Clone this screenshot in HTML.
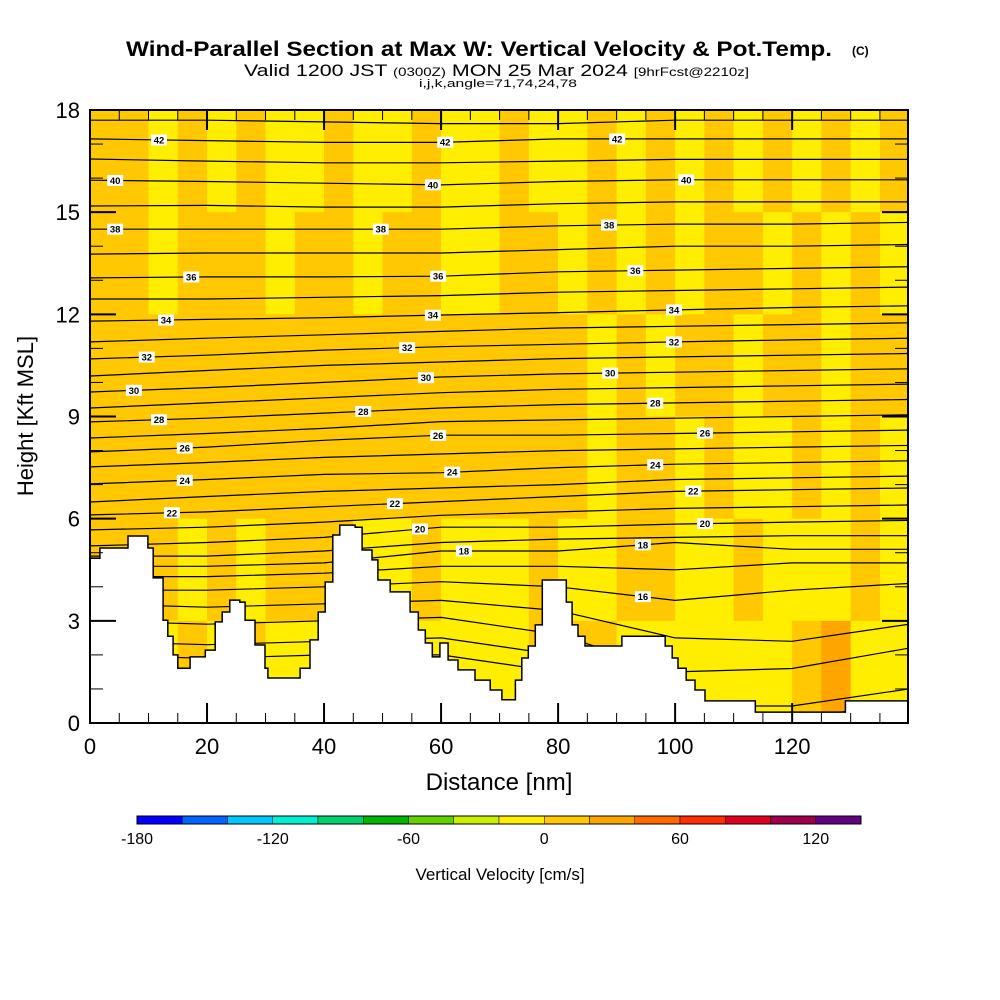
<!DOCTYPE html>
<html><head><meta charset="utf-8"><style>
html,body{margin:0;padding:0;background:#fff}
svg{display:block;font-family:"Liberation Sans",sans-serif}
</style></head><body>
<svg id="chart" width="1000" height="1000" viewBox="0 0 1000 1000">
<g>
<text x="126" y="56" font-size="21" font-weight="bold" textLength="706" lengthAdjust="spacingAndGlyphs">Wind-Parallel Section at Max W: Vertical Velocity &amp; Pot.Temp.</text>
<text x="852" y="55" font-size="12" font-weight="bold">(C)</text>
<text x="244" y="76" font-size="17" textLength="505" lengthAdjust="spacingAndGlyphs">Valid 1200 JST <tspan font-size="12">(0300Z)</tspan> MON 25 Mar 2024 <tspan font-size="12">[9hrFcst@2210z]</tspan></text>
<text x="498" y="87" font-size="11" text-anchor="middle" textLength="158" lengthAdjust="spacingAndGlyphs">i,j,k,angle=71,74,24,78</text>
</g>
<defs><clipPath id="plotclip"><rect x="90" y="110" width="818" height="613"/></clipPath></defs>
<g id="field" clip-path="url(#plotclip)"></g>
<g id="contours" clip-path="url(#plotclip)"></g>
<g id="terrain" clip-path="url(#plotclip)"></g>
<g id="labels" clip-path="url(#plotclip)"></g>
<rect x="90" y="110" width="818" height="613" fill="none" stroke="#000" stroke-width="2"/>
<g id="ticks"></g>
<text x="499" y="790" font-size="24" text-anchor="middle">Distance [nm]</text>
<text transform="translate(33,416) rotate(-90)" font-size="22" text-anchor="middle">Height [Kft MSL]</text>
<g id="colorbar"></g>
<text x="500" y="880" font-size="17" text-anchor="middle">Vertical Velocity [cm/s]</text>
</svg>
<script>
// ---- data ----
const wCols = [2.5,7.5,12.5,17.5,22.5,27.5,32.5,37.5,42.5,47.5,52.5,57.5,62.5,67.5,72.5,77.5,82.5,87.5,92.5,97.5,102.5,107.5,112.5,117.5,122.5,127.5,132.5,137.5];
const wRowsKft = [16.5,13.5,10.5,7.5,4.5,1.5];
const wRow0 = [10,10,-5,10,-5,10,-5,-5,10,-5,-5,10,-5,-5,10,-5,-5,10,-5,10,-5,10,-5,10,-5,10,-5,10];
const wRow1 = [10,10,-5,10,10,10,-5,10,10,-5,10,10,-5,-5,10,10,-5,10,-5,10,-5,10,10,-5,10,-5,10,-5];
const wRow2 = [10,10,10,10,10,10,10,10,10,10,10,10,10,10,10,10,10,-5,10,-5,10,10,-5,10,10,-5,10,10];
const wRow3 = [10,10,10,10,10,10,10,10,10,10,10,10,10,10,10,10,10,-5,10,10,-5,10,-5,-5,10,-5,10,-5];
const wRow4 = [10,10,10,-5,10,-5,10,10,10,-5,-5,10,-5,-5,-5,10,-5,-5,10,10,-5,-5,10,-5,-5,-5,10,-5];
const wRow5 = [-5,-5,-5,10,-5,10,-5,-5,-5,-5,10,-5,-5,-5,-5,10,10,10,-5,-5,-5,-5,-5,-5,10,30,-5,-5];
const wRows = [wRow0,wRow1,wRow2,wRow3,wRow4,wRow5];

const thetaStations = [0,20,40,60,80,100,120,140];
const thetaLevels = [12,13,14,15,16,17,18,19,20,21,22,23,24,25,26,27,28,29,30,31,32,33,34,35,36,37,38,39,40,41,42,43];
const thetaHeights = [
[2.0,1.9,2.0,2.0,1.5,0.2,0.2,0.5],
[2.4,2.3,2.4,2.5,2.0,0.5,0.5,1.0],
[3.0,2.9,3.0,3.1,2.6,1.5,1.6,2.2],
[3.5,3.4,3.5,3.6,3.3,2.5,2.4,2.9],
[3.9,3.9,4.0,4.15,4.0,3.6,3.9,4.1],
[4.3,4.3,4.4,4.6,4.6,4.5,4.7,4.7],
[4.6,4.6,4.7,5.05,5.05,5.3,5.1,5.1],
[4.9,4.9,5.05,5.3,5.4,5.45,5.5,5.5],
[5.2,5.3,5.45,5.75,5.75,5.84,5.9,5.95],
[5.67,5.75,5.9,6.1,6.2,6.3,6.35,6.4],
[6.11,6.2,6.35,6.5,6.65,6.8,6.85,6.9],
[6.49,6.65,6.8,6.9,7.0,7.15,7.2,7.25],
[7.02,7.15,7.3,7.35,7.5,7.6,7.65,7.7],
[7.52,7.65,7.8,7.9,8.0,8.05,8.1,8.15],
[7.96,8.1,8.3,8.45,8.45,8.5,8.55,8.6],
[8.37,8.5,8.65,8.85,8.9,8.95,9.0,9.05],
[8.84,8.95,9.1,9.25,9.35,9.4,9.45,9.5],
[9.25,9.4,9.55,9.7,9.8,9.85,9.9,9.95],
[9.72,9.85,10.0,10.16,10.25,10.3,10.35,10.4],
[10.19,10.35,10.5,10.6,10.7,10.75,10.8,10.85],
[10.69,10.8,10.95,11.05,11.12,11.19,11.25,11.3],
[11.19,11.3,11.4,11.5,11.6,11.65,11.7,11.75],
[11.8,11.85,11.9,11.98,12.05,12.13,12.2,12.25],
[12.45,12.45,12.5,12.55,12.65,12.7,12.75,12.8],
[13.07,13.1,13.1,13.12,13.25,13.3,13.35,13.4],
[13.77,13.8,13.8,13.8,13.9,14.0,14.0,14.05],
[14.5,14.5,14.5,14.5,14.6,14.65,14.65,14.7],
[15.18,15.2,15.15,15.15,15.25,15.3,15.3,15.3],
[15.94,15.9,15.85,15.8,15.9,15.95,15.95,15.95],
[16.56,16.5,16.45,16.45,16.5,16.55,16.55,16.55],
[17.15,17.1,17.05,17.05,17.15,17.15,17.15,17.15],
[17.7,17.7,17.65,17.6,17.6,17.7,17.7,17.7]];

const labelLevels = [42,42,42,40,40,40,38,38,38,36,36,36,34,34,34,32,32,32,30,30,30,28,28,28,26,26,26,24,24,24,22,22,22,20,20,18,18,16];
const labelDist = [11.8,60.7,90.1,4.3,58.6,101.9,4.3,49.7,88.7,17.3,59.5,93.2,13.0,58.6,99.8,9.7,54.2,99.8,7.5,57.4,88.9,11.8,46.7,96.6,16.2,59.5,105.1,16.2,61.9,96.6,14.0,52.1,103.1,56.4,105.1,63.9,94.5,94.5];

const terrainDist = [0,1.7,6.5,9.9,10.8,12.5,13.3,14.2,15.0,17.1,19.7,21.4,22.6,23.9,25.6,26.5,28.2,29.9,30.4,34.5,35.9,37.6,39.0,40.2,41.5,42.7,45.3,46.5,48.2,49.2,51.3,53.8,54.7,56.1,57.3,58.5,59.8,61.2,62.9,65.8,67.5,68.4,70.4,72.6,72.7,73.8,74.9,76.1,77.3,78.3,81.4,82.4,83.4,84.6,90.9,98.3,99.5,100.5,101.9,103.4,105.1,113.7,129.1,139.8];
const terrainKft = [4.84,5.14,5.49,5.14,4.26,3.02,2.55,2.0,1.61,1.94,2.14,2.97,3.26,3.61,3.55,3.02,2.29,1.61,1.32,1.32,1.61,2.44,3.26,4.14,5.52,5.81,5.75,5.08,4.79,4.20,3.85,3.85,3.26,2.73,2.35,1.94,2.35,1.85,1.56,1.26,1.26,0.97,0.68,0.68,1.26,1.91,2.26,2.88,4.20,4.20,3.55,2.88,2.55,2.26,2.55,2.26,1.91,1.61,1.26,0.97,0.65,0.32,0.65,0.65];

const cbValues = [-180,-160,-140,-120,-100,-80,-60,-40,-20,0,20,40,60,80,100,120,140];
const cbColors = ["#0000ff","#0064ff","#00c8ff","#00f0d2","#00d26e","#00b400","#64d200","#c8f000","#ffee00","#ffc800","#ffa500","#ff6900","#ff2d00","#e1001e","#a0004b","#640082"];
const cbTickLabels = [-180,-120,-60,0,60,120];

// ---- axes ----
const NS="http://www.w3.org/2000/svg";
const X = nm => 90 + nm*(818/139.8);
const Y = k => 723 - k*(613/18);
const CB = v => 137 + (v+180)*(724/320);
function mk(tag, attrs, parent){const e=document.createElementNS(NS,tag);for(const k in attrs)e.setAttribute(k,attrs[k]);parent.appendChild(e);return e;}
function colorFor(w){for(let i=0;i<cbColors.length;i++){if(w>=cbValues[i]&&w<cbValues[i+1])return cbColors[i];}return cbColors[cbColors.length-1];}

// field
const field=document.getElementById('field');
wRows.forEach((row,ri)=>{row.forEach((w,ci)=>{
  const r=mk('rect',{x:X(wCols[ci]-2.5),y:Y(wRowsKft[ri]+1.5),width:X(wCols[ci]+2.5)-X(wCols[ci]-2.5)+0.5,height:Y(wRowsKft[ri]-1.5)-Y(wRowsKft[ri]+1.5)+0.5,fill:colorFor(w)},field);
  
  
});});

// contours
function thetaHeightAt(li,d){const h=thetaHeights[li];for(let i=0;i<thetaStations.length-1;i++){if(d<=thetaStations[i+1]){const t=(d-thetaStations[i])/(thetaStations[i+1]-thetaStations[i]);return h[i]+t*(h[i+1]-h[i]);}}return h[h.length-1];}
const cg=document.getElementById('contours');
thetaLevels.forEach((lv,li)=>{
  const pts=thetaStations.map((d,i)=>X(d).toFixed(1)+','+Y(thetaHeights[li][i]).toFixed(1)).join(' ');
  const p=mk('polyline',{points:pts,fill:'none',stroke:'#000','stroke-width':1.2},cg);
  
  
});

// terrain
const tg=document.getElementById('terrain');
let d='M'+X(0)+','+Y(-1)+' L'+X(terrainDist[0])+','+Y(terrainKft[0]);
for(let i=1;i<terrainDist.length;i++){d+=' L'+X(terrainDist[i]).toFixed(1)+','+Y(terrainKft[i-1]).toFixed(1)+' L'+X(terrainDist[i]).toFixed(1)+','+Y(terrainKft[i]).toFixed(1);}
d+=' L'+X(141)+','+Y(terrainKft[terrainKft.length-1])+' L'+X(141)+','+Y(-1)+' Z';
const tp=mk('path',{d:d,fill:'#fff',stroke:'#000','stroke-width':1.5},tg);



// labels
const lg=document.getElementById('labels');
labelLevels.forEach((lv,i)=>{
  const li=thetaLevels.indexOf(lv);const cx=X(labelDist[i]);const cy=Y(thetaHeightAt(li,labelDist[i]));
  const g=mk('g',{},lg);
  
  
  mk('rect',{x:cx-8,y:cy-5.5,width:16,height:11,fill:'#fff'},g);
  const t=mk('text',{x:cx,y:cy+3.5,'font-size':9.5,'font-weight':'bold','text-anchor':'middle'},g);t.textContent=lv;
});

// ticks
const tk=document.getElementById('ticks');
for(let nm=0;nm<=139.8;nm+=5){const maj=nm%20===0;const L=maj?20:10;const x=X(nm);
  mk('line',{x1:x,y1:723,x2:x,y2:723-L,stroke:'#000','stroke-width':maj?2:1},tk);
  mk('line',{x1:x,y1:110,x2:x,y2:110+L,stroke:'#000','stroke-width':maj?2:1},tk);
  if(maj){const t=mk('text',{x:x,y:754,'font-size':22,'text-anchor':'middle'},tk);t.textContent=nm;}}
for(let k=0;k<=18;k++){const maj=k%3===0;const L=maj?26:13;const y=Y(k);
  mk('line',{x1:90,y1:y,x2:90+L,y2:y,stroke:'#000','stroke-width':maj?2:1},tk);
  mk('line',{x1:908,y1:y,x2:908-L,y2:y,stroke:'#000','stroke-width':maj?2:1},tk);
  if(maj){const t=mk('text',{x:80,y:y+8,'font-size':22,'text-anchor':'end'},tk);t.textContent=k;}}

// colorbar
const cb=document.getElementById('colorbar');
cbColors.forEach((c,i)=>{const r=mk('rect',{x:CB(cbValues[i]),y:816,width:CB(cbValues[i+1])-CB(cbValues[i]),height:8,fill:c,stroke:'#000','stroke-width':0.5},cb);
  
  });
mk('rect',{x:137,y:816,width:724,height:8,fill:'none',stroke:'#000','stroke-width':1},cb);
cbTickLabels.forEach(v=>{const t=mk('text',{x:CB(v),y:844,'font-size':16,'text-anchor':'middle'},cb);
  
  
  t.textContent=v;});
</script>
</body></html>
